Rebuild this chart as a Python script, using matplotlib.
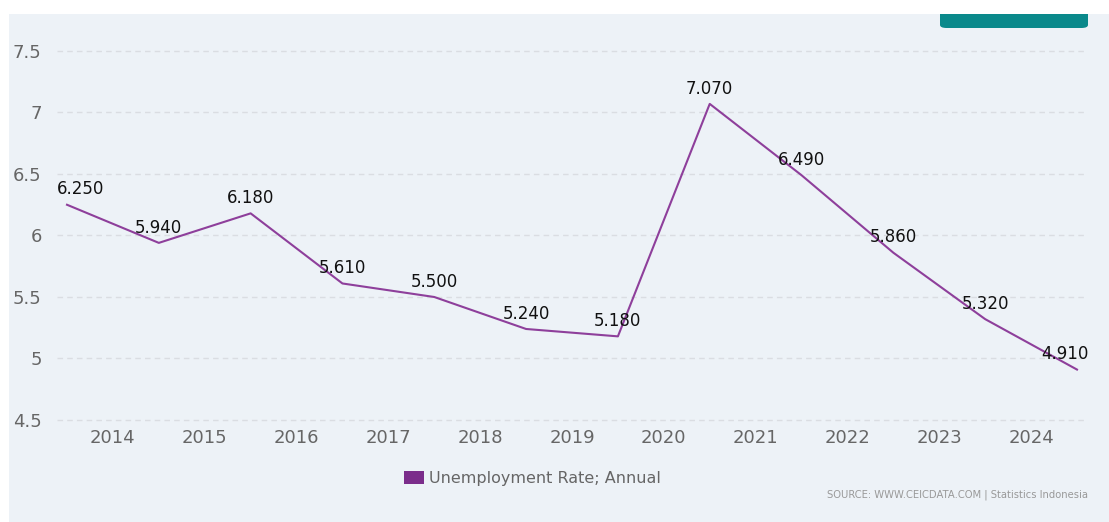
import matplotlib.pyplot as plt
import numpy as np
from matplotlib.patches import Rectangle, FancyBboxPatch

# данные
years = ["2014", "2015", "2016", "2017", "2018", "2019", "2020", "2021", "2022", "2023", "2024"]
rate = [6.25, 5.94, 6.18, 5.61, 5.50, 5.24, 5.18, 7.07, 6.49, 5.86, 5.32, 4.91]
y_ticks = [4.5, 5, 5.5, 6, 6.5, 7, 7.5]

W, H = 1109, 522
fig = plt.figure(figsize=(W / 100, H / 100), dpi=100, facecolor="white")

# фон панели, кнопка и белая полоса сверху
panel = "#edf2f7"
fig.patches.append(Rectangle((9 / W, 0), 1 - 9 / W, 1 - 14 / H, transform=fig.transFigure,
                             facecolor=panel, edgecolor="none", zorder=0))
fig.patches.append(FancyBboxPatch((940 / W, 1 - 28 / H), 148 / W, 24 / H,
                                  boxstyle="round,pad=0,rounding_size=0.006",
                                  transform=fig.transFigure, facecolor="#0a898b",
                                  edgecolor="none", zorder=1))
fig.patches.append(Rectangle((0, 1 - 14 / H), 1, 14 / H, transform=fig.transFigure,
                             facecolor="white", edgecolor="none", zorder=2))

ppu = (420 - 51) / 3.0
pad_top = 0.1
pad_bot = 0.04
top_px = 51 - pad_top * ppu
bot_px = 420 + pad_bot * ppu
ax = fig.add_axes([57 / W, 1 - bot_px / H, (1088 - 57) / W, (bot_px - top_px) / H])
ax.set_facecolor("none")
ax.set_zorder(3)

x = np.arange(len(rate))
ax.plot(x, rate, color="#8e3f9b", lw=1.5, zorder=3)

ax.set_xlim(-10 / 91.8, len(rate) - 1 + 11 / 91.8)
ax.set_ylim(4.5 - pad_bot, 7.5 + pad_top)
ax.set_yticks(y_ticks)
ax.set_yticklabels([("%g" % v) for v in y_ticks])
ax.set_xticks(np.arange(len(years)) + 0.5)
ax.set_xticklabels(years)
ax.tick_params(length=0, labelsize=13, labelcolor="#666666")
ax.tick_params(axis="y", pad=11)
ax.tick_params(axis="x", pad=3)
for s in ax.spines.values():
    s.set_visible(False)
ax.grid(axis="y", color="#dadde2", lw=1, linestyle=(0, (4, 3)))
ax.set_axisbelow(True)

# подписи значений
for i, v in enumerate(rate):
    dx = 0
    if i == 0:
        dx = 10
    elif i == len(rate) - 1:
        dx = -9
    ax.annotate("%.3f" % v, (i, v), xytext=(dx, 11), textcoords="offset points",
                ha="center", va="center", fontsize=12, color="#111111", zorder=4)

# легенда
fig.patches.append(Rectangle((404 / W, 1 - 484 / H), 20 / W, 13 / H, transform=fig.transFigure,
                             facecolor="#7b2d8b", edgecolor="none", zorder=3))
fig.text(429 / W, 1 - 478 / H, "Unemployment Rate; Annual", ha="left", va="center",
         fontsize=11.5, color="#666666")
fig.text(1088 / W, 1 - 495 / H, "SOURCE: WWW.CEICDATA.COM | Statistics Indonesia",
         ha="right", va="center", fontsize=7.2, color="#999999")

fig.savefig("out.png", dpi=100, facecolor="white")
